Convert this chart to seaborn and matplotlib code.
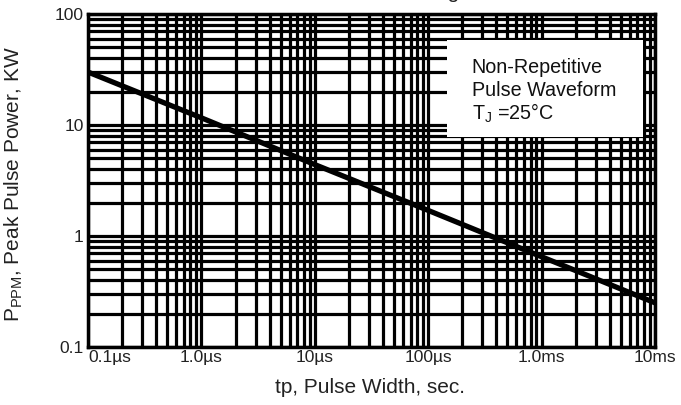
import numpy as np
import matplotlib
matplotlib.use('Agg')
import matplotlib.pyplot as plt
import matplotlib.ticker as mticker
from matplotlib.patches import Rectangle
import seaborn as sns

# peak pulse power curve
pulse_width_s = [1e-7, 1e-6, 1e-5, 1e-4, 1e-3, 1e-2]
peak_power_kw = [30, 11.6, 4.4, 1.7, 0.65, 0.25]

x_ticks = [1e-7, 1e-6, 1e-5, 1e-4, 1e-3, 1e-2]
x_labels = ['0.1\u00b5s', '1.0\u00b5s', '10\u00b5s', '100\u00b5s', '1.0ms', '10ms']
y_ticks = [0.1, 1, 10, 100]
y_labels = ['0.1', '1', '10', '100']

sns.set_style('white')
plt.rcParams['font.family'] = ['Liberation Sans', 'DejaVu Sans']
plt.rcParams['mathtext.fontset'] = 'custom'
plt.rcParams['mathtext.rm'] = 'Liberation Sans'
plt.rcParams['mathtext.it'] = 'Liberation Sans:italic'
plt.rcParams['mathtext.bf'] = 'Liberation Sans:bold'

W, H = 681, 405
fig = plt.figure(figsize=(W / 100, H / 100), dpi=100)
L, R, T, B = 88, 655, 14, 347
ax = fig.add_axes([L / W, 1 - B / H, (R - L) / W, (B - T) / H])

sns.lineplot(x=pulse_width_s, y=peak_power_kw, ax=ax, color='black', lw=3.8, zorder=2)
ax.set_xscale('log')
ax.set_yscale('log')
ax.set_xlim(1e-7, 1e-2)
ax.set_ylim(0.1, 100)

for a in (ax.xaxis, ax.yaxis):
    a.set_minor_locator(mticker.LogLocator(base=10, subs=np.arange(2, 10)))
    a.set_minor_formatter(mticker.NullFormatter())
ax.set_xticks(x_ticks, x_labels)
ax.set_yticks(y_ticks, y_labels)
ax.grid(which='both', color='black', lw=2.3)
ax.set_axisbelow(True)
ax.tick_params(which='both', length=0, labelsize=12.5, colors='#222222')
ax.tick_params(axis='x', pad=2)
ax.tick_params(axis='y', pad=3)
ax.get_xticklabels()[0].set_ha('left')
for s in ax.spines.values():
    s.set_color('black')
    s.set_linewidth(2.5)

# note box over the grid
ax.add_patch(Rectangle((0.633, 0.631), 0.346, 0.291, transform=ax.transAxes,
                       fc='white', ec='none', zorder=3))
note = ['Non-Repetitive', 'Pulse Waveform', r'T$_{\mathrm{J}}$ =25' + '\u00b0C']
for txt, yy in zip(note, [0.838, 0.769, 0.703]):
    ax.text(0.677, yy, txt, transform=ax.transAxes, ha='left', va='center',
            fontsize=14.2, color='#111111', zorder=4)

ax.set_xlabel('tp, Pulse Width, sec.', fontsize=15, color='#222222', va='center')
ax.xaxis.set_label_coords(0.497, -0.123)
ax.set_ylabel(r'P$_{\mathrm{PPM}}$, Peak Pulse Power, KW', fontsize=15,
              color='#222222', va='center')
ax.yaxis.set_label_coords(-0.1305, 0.489)

# title line cut off by the top edge, only the descender shows
fig.text(371 / W, 1 + 1.5 / H, 'Peak Pulse Power Rating Curve', ha='center',
         va='baseline', fontsize=15, color='#222222')

fig.savefig('out.png', dpi=100)
